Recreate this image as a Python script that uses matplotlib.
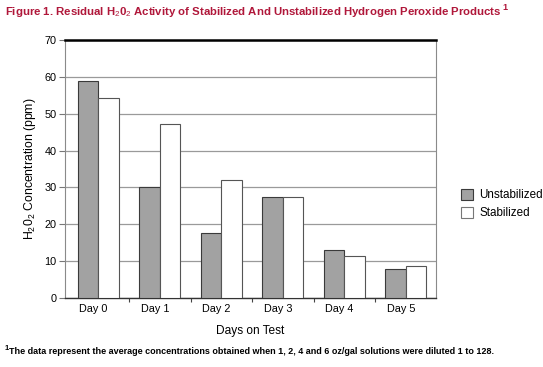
import matplotlib
matplotlib.use("Agg")
import matplotlib.pyplot as plt
import numpy as np
from matplotlib.patches import Patch

plt.rcParams['font.family'] = ['Liberation Sans', 'DejaVu Sans']
plt.rcParams['mathtext.fontset'] = 'custom'
plt.rcParams['mathtext.rm'] = 'Liberation Sans'
plt.rcParams['mathtext.it'] = 'Liberation Sans'
plt.rcParams['mathtext.bf'] = 'Liberation Sans:bold'

days = ["Day 0", "Day 1", "Day 2", "Day 3", "Day 4", "Day 5"]
unstabilized = [59, 30, 17.7, 27.4, 13.1, 7.9]
stabilized = [54.3, 47.2, 32, 27.4, 11.4, 8.8]
series_names = ["Unstabilized", "Stabilized"]

fig = plt.figure(figsize=(5.43, 3.67), dpi=100)
ax = fig.add_axes([65/543, 1-298/367, (436-65)/543, (298-40)/367])

x = np.arange(len(days))
w = 0.335
ax.bar(x - w/2, unstabilized, w, color='#a2a2a2', edgecolor='#3a3a3a', linewidth=0.8, zorder=3)
ax.bar(x + w/2, stabilized, w, color='white', edgecolor='#555555', linewidth=0.8, zorder=3)

ax.set_xlim(-0.54, 5.49)
ax.set_ylim(0, 70)
ax.set_yticks(range(0, 71, 10))
ax.yaxis.grid(True, color='#9a9a9a', linewidth=0.9, zorder=0)
ax.set_axisbelow(True)

ax.set_xticks(x - 0.08)
ax.set_xticklabels(days, fontsize=7.8)
ax.set_xticks(np.arange(0.5, 5.0, 1.0), minor=True)
ax.tick_params(axis='x', which='major', length=0, pad=4)
ax.tick_params(axis='x', which='minor', length=3, width=0.8, color='#444444', direction='out')
ax.tick_params(axis='y', length=4, width=0.8, color='#777777', labelsize=7.8, pad=2)

for s in ['left', 'right']:
    ax.spines[s].set_color('#8a8a8a')
    ax.spines[s].set_linewidth(0.8)
ax.spines['top'].set_color('black')
ax.spines['top'].set_linewidth(1.8)
ax.spines['bottom'].set_color('#333333')
ax.spines['bottom'].set_linewidth(1.0)

ax.set_ylabel(r'H$_2$0$_2$ Concentration (ppm)', fontsize=8.8, labelpad=5)
ax.set_xlabel('Days on Test', fontsize=8.6, labelpad=8)

handles = [Patch(facecolor='#a2a2a2', edgecolor='#3a3a3a', linewidth=0.8),
           Patch(facecolor='white', edgecolor='#777777', linewidth=0.8)]
fig.legend(handles, series_names, loc='center left', bbox_to_anchor=(455/543, 1-204/367),
           frameon=False, fontsize=8.4, handlelength=1.0, handleheight=1.1,
           handletextpad=0.6, labelspacing=0.45, borderpad=0)

title = fig.text(5/543, 1-12/367,
                 r'Figure 1. Residual H$_2$0$_2$ Activity of Stabilized And Unstabilized Hydrogen Peroxide Products',
                 color='#b0173a', fontsize=8.2, fontweight='bold', va='center', ha='left')
fig.canvas.draw()
bb = title.get_window_extent(fig.canvas.get_renderer())
fig.text(bb.x1/fig.bbox.width + 0.5/543, 1-8/367, '1', color='#b0173a', fontsize=6.5,
         fontweight='bold', va='center', ha='left')

fig.text(5/543, 1-349/367, '1', color='black', fontsize=5.5, fontweight='bold', va='center', ha='left')
fig.text(9/543, 1-352/367,
         'The data represent the average concentrations obtained when 1, 2, 4 and 6 oz/gal solutions were diluted 1 to 128.',
         color='black', fontsize=6.5, fontweight='bold', va='center', ha='left')

fig.savefig('out.png', dpi=100)
